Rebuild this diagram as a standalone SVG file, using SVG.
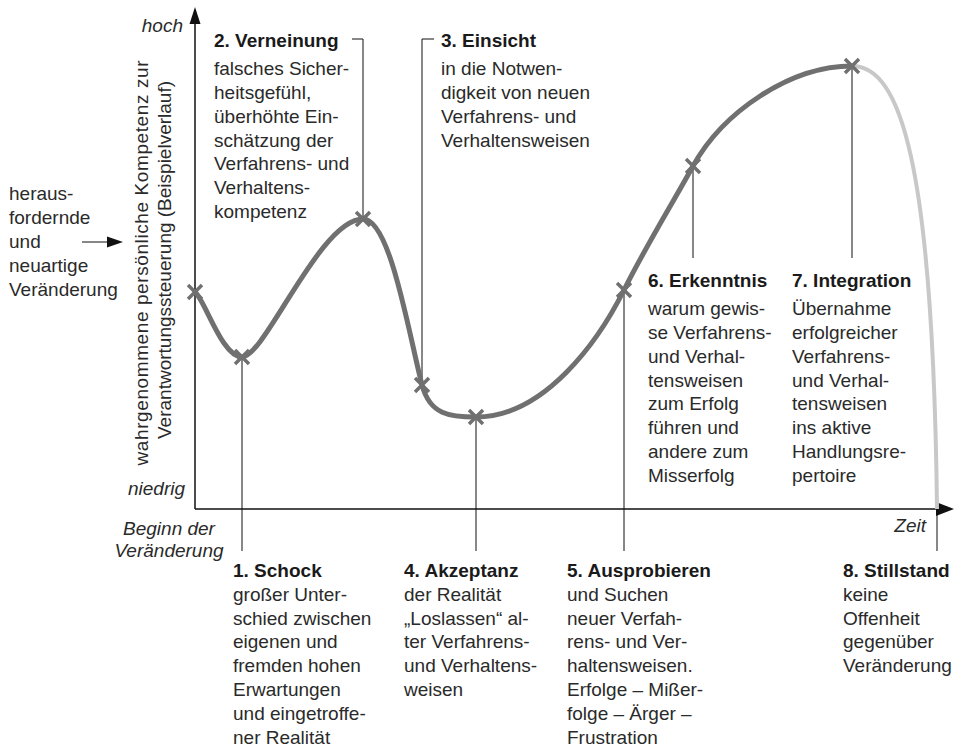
<svg xmlns="http://www.w3.org/2000/svg" width="957" height="752" viewBox="0 0 957 752">
<defs>
<style>
.t{font-family:"Liberation Sans",Arial,sans-serif;font-size:19px;fill:#2a2a2a}
.h{font-family:"Liberation Sans",Arial,sans-serif;font-size:19px;font-weight:bold;fill:#1a1a1a}
.i{font-family:"Liberation Sans",Arial,sans-serif;font-size:19px;font-style:italic;fill:#2a2a2a}
.ax{stroke:#111;stroke-width:1.5;fill:none}
.ln{stroke:#111;stroke-width:1;fill:none}
.cv{stroke:#707070;stroke-width:5;fill:none;stroke-linecap:round}
.cl{stroke:#c8c8c8;stroke-width:4;fill:none}
.mk{stroke:#707070;stroke-width:3.5;fill:none}
</style>
<path id="x" d="M-7,-7L7,7M-7,7L7,-7" class="mk"/>
</defs>
<rect width="957" height="752" fill="#fff"/>

<g id="axes">
<line class="ax" x1="195" y1="20" x2="195" y2="509"/>
<polygon points="195,7 189.5,24 200.5,24" fill="#111"/>
<line class="ax" x1="195" y1="509" x2="940" y2="509"/>
<polygon points="954,509 936,502 936,516" fill="#111"/>
<text class="i" x="183" y="32" text-anchor="end">hoch</text>
<text class="i" x="185" y="495" text-anchor="end">niedrig</text>
<text class="i" x="169" y="535" text-anchor="middle">Beginn der</text>
<text class="i" x="169" y="557" text-anchor="middle">Veränderung</text>
<text class="i" x="926" y="532" text-anchor="end">Zeit</text>
<text class="t" transform="translate(148,263) rotate(-90)" text-anchor="middle" textLength="405">wahrgenommene persönliche Kompetenz zur</text>
<text class="t" transform="translate(171,260) rotate(-90)" text-anchor="middle">Verantwortungssteuerung (Beispielverlauf)</text>
</g>

<g id="input">
<text class="t" x="9" y="200">heraus-</text>
<text class="t" x="9" y="224">fordernde</text>
<text class="t" x="9" y="248">und</text>
<text class="t" x="9" y="272">neuartige</text>
<text class="t" x="9" y="296">Veränderung</text>
</g>

<g id="connectors">
<line class="ln" x1="82" y1="242" x2="110" y2="242"/>
<polygon points="123,242 107,236.5 107,247.5" fill="#111"/>
<line class="ln" x1="242" y1="357" x2="242" y2="551"/>
<path class="ln" d="M352,39H363V219"/>
<path class="ln" d="M434,39H422V385"/>
<line class="ln" x1="476" y1="417" x2="476" y2="551"/>
<line class="ln" x1="624" y1="290" x2="624" y2="551"/>
<line class="ln" x1="693" y1="166" x2="693" y2="258"/>
<line class="ln" x1="852" y1="66" x2="852" y2="258"/>
<line class="ln" x1="937" y1="509" x2="937" y2="551"/>
</g>

<g id="curve">
<path class="cl" d="M852,66 C900,66 933,160 937,509"/>
<path class="cv" d="M195,292 C205,300 222,357 242,357 C265,357 320,219 363,219 C390,219 408,330 422,385 C430,415 450,417 476,417 C545,417 599,340 624,290 C646,246 671,206 693,166 C723,112 790,66 852,66"/>
<use href="#x" x="195" y="292"/>
<use href="#x" x="242" y="357"/>
<use href="#x" x="363" y="219"/>
<use href="#x" x="422" y="385"/>
<use href="#x" x="476" y="417"/>
<use href="#x" x="624" y="290"/>
<use href="#x" x="693" y="166"/>
<use href="#x" x="852" y="66"/>
</g>

<g id="phase1">
<text class="h" x="233" y="577">1. Schock</text>
<text class="t" x="233" y="600.7">großer Unter-</text>
<text class="t" x="233" y="624.5">schied zwischen</text>
<text class="t" x="233" y="648.4">eigenen und</text>
<text class="t" x="233" y="672.2">fremden hohen</text>
<text class="t" x="233" y="696.1">Erwartungen</text>
<text class="t" x="233" y="719.9">und eingetroffe-</text>
<text class="t" x="233" y="743.8">ner Realität</text>
</g>

<g id="phase2">
<text class="h" x="214" y="47">2. Verneinung</text>
<text class="t" x="214" y="75">falsches Sicher-</text>
<text class="t" x="214" y="98.9">heitsgefühl,</text>
<text class="t" x="214" y="122.7">überhöhte Ein-</text>
<text class="t" x="214" y="146.6">schätzung der</text>
<text class="t" x="214" y="170.4">Verfahrens- und</text>
<text class="t" x="214" y="194.3">Verhaltens-</text>
<text class="t" x="214" y="218.1">kompetenz</text>
</g>

<g id="phase3">
<text class="h" x="441" y="47">3. Einsicht</text>
<text class="t" x="441" y="75">in die Notwen-</text>
<text class="t" x="441" y="98.9">digkeit von neuen</text>
<text class="t" x="441" y="122.7">Verfahrens- und</text>
<text class="t" x="441" y="146.6">Verhaltensweisen</text>
</g>

<g id="phase4">
<text class="h" x="404" y="577">4. Akzeptanz</text>
<text class="t" x="404" y="600.7">der Realität</text>
<text class="t" x="404" y="624.5">„Loslassen“ al-</text>
<text class="t" x="404" y="648.4">ter Verfahrens-</text>
<text class="t" x="404" y="672.2">und Verhaltens-</text>
<text class="t" x="404" y="696.1">weisen</text>
</g>

<g id="phase5">
<text class="h" x="567" y="577">5. Ausprobieren</text>
<text class="t" x="567" y="600.7">und Suchen</text>
<text class="t" x="567" y="624.5">neuer Verfah-</text>
<text class="t" x="567" y="648.4">rens- und Ver-</text>
<text class="t" x="567" y="672.2">haltensweisen.</text>
<text class="t" x="567" y="696.1">Erfolge – Mißer-</text>
<text class="t" x="567" y="719.9">folge – Ärger –</text>
<text class="t" x="567" y="743.8">Frustration</text>
</g>

<g id="phase6">
<text class="h" x="648" y="287">6. Erkenntnis</text>
<text class="t" x="648" y="315">warum gewis-</text>
<text class="t" x="648" y="338.9">se Verfahrens-</text>
<text class="t" x="648" y="362.7">und Verhal-</text>
<text class="t" x="648" y="386.6">tensweisen</text>
<text class="t" x="648" y="410.4">zum Erfolg</text>
<text class="t" x="648" y="434.3">führen und</text>
<text class="t" x="648" y="458.1">andere zum</text>
<text class="t" x="648" y="482">Misserfolg</text>
</g>

<g id="phase7">
<text class="h" x="792" y="287">7. Integration</text>
<text class="t" x="792" y="315">Übernahme</text>
<text class="t" x="792" y="338.9">erfolgreicher</text>
<text class="t" x="792" y="362.7">Verfahrens-</text>
<text class="t" x="792" y="386.6">und Verhal-</text>
<text class="t" x="792" y="410.4">tensweisen</text>
<text class="t" x="792" y="434.3">ins aktive</text>
<text class="t" x="792" y="458.1">Handlungsre-</text>
<text class="t" x="792" y="482">pertoire</text>
</g>

<g id="phase8">
<text class="h" x="843" y="577">8. Stillstand</text>
<text class="t" x="843" y="600.7">keine</text>
<text class="t" x="843" y="624.5">Offenheit</text>
<text class="t" x="843" y="648.4">gegenüber</text>
<text class="t" x="843" y="672.2">Veränderung</text>
</g>
</svg>
